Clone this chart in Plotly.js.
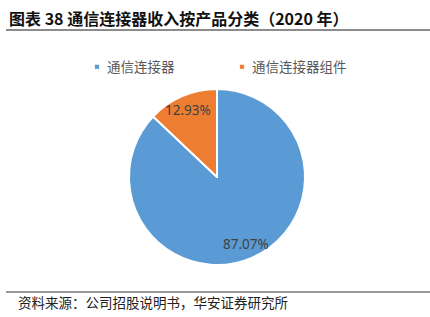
<!DOCTYPE html>
<html>
<head>
<meta charset="utf-8">
<script src="https://cdn.plot.ly/plotly-3.0.1.min.js"></script>
<style>
html,body{margin:0;padding:0;background:#fff;}
#chart{width:430px;height:317px;}
.legendpie{transform: translate(30px,0px) scale(0.42);}
</style>
</head>
<body>
<div id="chart"></div>
<script>
const categories = ["通信连接器", "通信连接器组件"];
const shares = [87.07, 12.93];
const sliceColors = ["#5B9BD5", "#ED7D31"];
const titleText = "图表 38 通信连接器收入按产品分类（2020 年）";
const sourceText = "资料来源：公司招股说明书，华安证券研究所";

const W = 430, H = 317;
const px = (x) => x / W;
const py = (y) => 1 - y / H;
const pieDomain = {x: [px(129), px(305)], y: [py(265), py(89)]};

const pieTrace = {
  type: "pie",
  labels: categories,
  values: shares,
  sort: false,
  direction: "clockwise",
  rotation: 0,
  marker: {colors: sliceColors, line: {color: "#ffffff", width: 2}},
  textinfo: "none",
  hoverinfo: "none",
  domain: pieDomain
};

// Data labels placed Excel-style: at the middle angle of each slice, 0.83 of the radius
const cxP = (pieDomain.x[0] + pieDomain.x[1]) / 2;
const cyP = (pieDomain.y[0] + pieDomain.y[1]) / 2;
const rPx = (pieDomain.x[1] - pieDomain.x[0]) * W / 2;
const total = shares.reduce((a, b) => a + b, 0);
let cum = 0;
const labelAnnotations = shares.map((v) => {
  const mid = (cum + v / 2) / total * 2 * Math.PI; // clockwise from 12 o'clock
  cum += v;
  const r = 0.83 * rPx;
  return {
    text: v.toFixed(2) + "%",
    xref: "paper", yref: "paper",
    x: cxP + (r * Math.sin(mid)) / W,
    y: cyP + (r * Math.cos(mid)) / H,
    xanchor: "center", yanchor: "middle", showarrow: false,
    font: {family: "Noto Sans, Open Sans, sans-serif", size: 13.5, color: "#404040"}
  };
});

const layout = {
  width: W, height: H,
  margin: {l: 0, r: 0, t: 0, b: 0},
  paper_bgcolor: "#ffffff",
  plot_bgcolor: "#ffffff",
  font: {family: "Noto Sans CJK SC, sans-serif"},
  showlegend: true,
  legend: {
    orientation: "h",
    x: px(67), xanchor: "left",
    y: py(67), yanchor: "middle",
    entrywidth: 100,
    font: {family: "Noto Sans CJK SC, sans-serif", size: 13.5, color: "#595959"},
    bgcolor: "rgba(0,0,0,0)"
  },
  shapes: [
    {type: "line", xref: "paper", yref: "paper", x0: px(6), x1: 1, y0: py(30), y1: py(30),
     line: {color: "#8c8c8c", width: 2}},
    {type: "line", xref: "paper", yref: "paper", x0: px(6), x1: 1, y0: py(292), y1: py(292),
     line: {color: "#333333", width: 1}}
  ],
  annotations: [
    {text: "<b>" + titleText + "</b>", xref: "paper", yref: "paper", x: px(7), y: py(18),
     xanchor: "left", yanchor: "middle", showarrow: false,
     font: {family: "Noto Sans CJK SC, sans-serif", size: 16, color: "#111111"}},
    {text: sourceText, xref: "paper", yref: "paper", x: px(16), y: py(302),
     xanchor: "left", yanchor: "middle", showarrow: false,
     font: {family: "Noto Sans CJK SC, sans-serif", size: 13.5, color: "#222222"}}
  ].concat(labelAnnotations)
};

Plotly.newPlot("chart", [pieTrace], layout, {staticPlot: true, displayModeBar: false});
</script>
</body>
</html>
